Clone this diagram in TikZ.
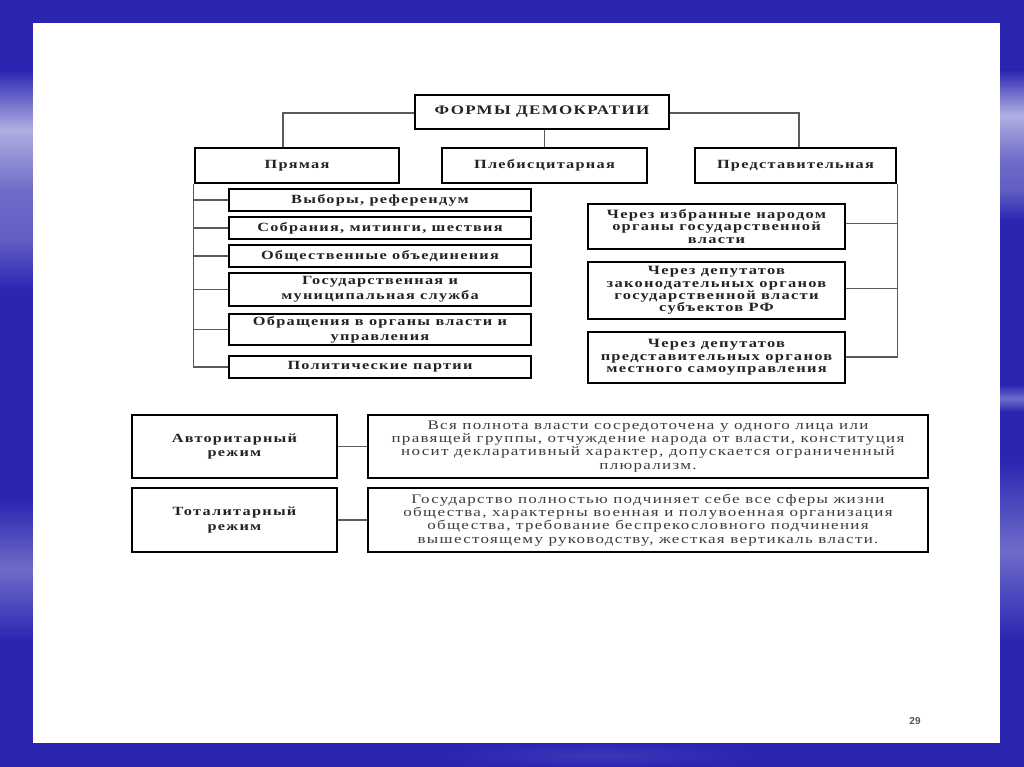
\documentclass[tikz,border=0pt]{standalone}
\usepackage{fontspec}
\setmainfont{Liberation Serif}
\newfontfamily\lblfont[LetterSpace=10,FakeStretch=1.3]{Liberation Serif}
\newfontfamily\numfont{Liberation Sans}
\usetikzlibrary{fit,calc}
\definecolor{bgblue}{RGB}{42,38,178}
\definecolor{bglight}{RGB}{175,175,225}
\definecolor{bgmid}{RGB}{110,108,200}
\definecolor{txt}{RGB}{35,35,35}
\definecolor{conncol}{RGB}{90,90,90}
\newcommand\bbox[4]{\node[box, fit={#2}] (#1) {}; \node[#3] (#1t) at (#1.center) {#4};}
\begin{document}
\begin{tikzpicture}[x=0.75pt,y=-0.75pt,
  box/.style={draw=black, line width=1.7pt, fill=white, inner sep=0pt},
  tlbl/.style={align=center, inner sep=0pt, text=txt, font=\lblfont\bfseries\fontsize{9.8}{10}\selectfont},
  lbl/.style={align=center, inner sep=0pt, text=txt, font=\lblfont\bfseries\fontsize{9.4}{11.2}\selectfont},
  rlbl/.style={align=center, inner sep=0pt, text=txt, font=\lblfont\bfseries\fontsize{9.5}{9.3}\selectfont},
  desc/.style={align=center, inner sep=0pt, font=\lblfont\fontsize{9.8}{9.9}\selectfont, text={rgb,255:red,60;green,60;blue,60}},
  conn/.style={draw=conncol, line width=0.8pt}]
% background
\useasboundingbox (0,0) rectangle (1024,767);
\fill[bgblue] (0,0) rectangle (1024,767);
\shade[top color=bgblue, bottom color=bgmid, middle color=bglight] (0,70) rectangle (33,190);
\shade[top color=bgmid, bottom color=bgblue, middle color=bgmid!80!bgblue] (0,190) rectangle (33,290);
\shade[top color=bgblue, bottom color=bgblue, middle color=bgmid] (0,500) rectangle (33,640);
\shade[top color=bgblue, bottom color=bgmid, middle color=bglight] (1000,70) rectangle (1024,160);
\shade[top color=bgmid, bottom color=bgblue, middle color=bgmid!80!bgblue] (1000,160) rectangle (1024,220);
\shade[top color=bgblue, bottom color=bgblue, middle color=bgmid] (1000,385) rectangle (1024,412);
\shade[top color=bgblue, bottom color=bgblue, middle color=bgmid] (1000,460) rectangle (1024,640);
\shade[inner color=bgblue!75!bgmid, outer color=bgblue] (450,743) rectangle (750,767);
\fill[white] (33,23) rectangle (1000,743);

% top level
\bbox{top}{(415,95)(669,129)}{tlbl}{ФОРМЫ ДЕМОКРАТИИ}
\bbox{pr}{(195,148)(399,183)}{lbl}{Прямая}
\bbox{pl}{(442,148)(647,183)}{lbl}{Плебисцитарная}
\bbox{pd}{(695,148)(896,183)}{lbl}{Представительная}

% direct
\bbox{b1}{(229,189)(531,211)}{lbl}{Выборы, референдум}
\bbox{b2}{(229,217)(531,239)}{lbl}{Собрания, митинги, шествия}
\bbox{b3}{(229,245)(531,267)}{lbl}{Общественные объединения}
\bbox{b4}{(229,273)(531,306)}{lbl}{Государственная и\\муниципальная служба}
\bbox{b5}{(229,314)(531,345)}{lbl}{Обращения в органы власти и\\управления}
\bbox{b6}{(229,356)(531,378)}{lbl}{Политические партии}

% representative
\bbox{r1}{(588,204)(845,249)}{rlbl}{Через избранные народом\\органы государственной\\власти}
\bbox{r2}{(588,262)(845,319)}{rlbl}{Через депутатов\\законодательных органов\\государственной власти\\субъектов РФ}
\bbox{r3}{(588,332)(845,383)}{rlbl}{Через депутатов\\представительных органов\\местного самоуправления}

% regimes
\bbox{av}{(132,415)(337,478)}{lbl}{Авторитарный\\режим}
\bbox{avd}{(368,415)(928,478)}{desc}{Вся полнота власти сосредоточена у одного лица или\\правящей группы, отчуждение народа от власти, конституция\\носит декларативный характер, допускается ограниченный\\плюрализм.}
\bbox{to}{(132,488)(337,552)}{lbl}{Тоталитарный\\режим}
\bbox{tod}{(368,488)(928,552)}{desc}{Государство полностью подчиняет себе все сферы жизни\\общества, характерны военная и полувоенная организация\\общества, требование беспрекословного подчинения\\вышестоящему руководству, жесткая вертикаль власти.}

\node[font=\numfont\bfseries\fontsize{7.5}{9}\selectfont, text={rgb,255:red,85;green,85;blue,85}] (num) at (915,721) {29};

% connectors
\draw[conn] ([yshift=-0.75pt]top.west) -| ([xshift=-10.5pt]pr.north);
\draw[conn] (top.south -| pl.north) -- (pl.north);
\draw[conn] ([yshift=-0.75pt]top.east) -| ([xshift=2.6pt]pd.north);
\draw[conn] (pr.south west) |- (b6.west);
\foreach \b in {b1,b2,b3,b4,b5} \draw[conn] (\b.west -| pr.south west) -- (\b.west);
\draw[conn] (pd.south east) |- ([yshift=0.4pt]r3.east);
\draw[conn] ([yshift=2.6pt]r1.east) -- ([yshift=2.6pt]r1.east -| pd.south east);
\draw[conn] ([yshift=1.8pt]r2.east) -- ([yshift=1.8pt]r2.east -| pd.south east);
\draw[conn] (av.east) -- (avd.west);
\draw[conn] (to.east) -- (tod.west);
\end{tikzpicture}
\end{document}
